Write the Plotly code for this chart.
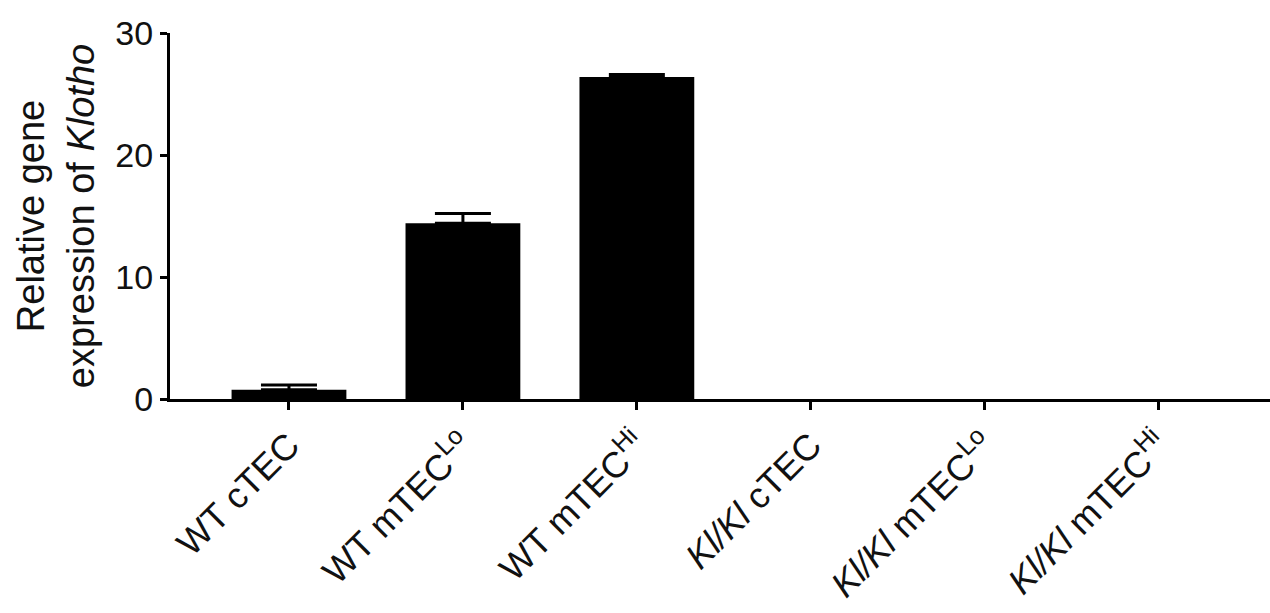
import plotly.graph_objects as go

categories = ["WT cTEC", "WT mTEC<sup>Lo</sup>", "WT mTEC<sup>Hi</sup>",
              "<i>Kl/Kl</i> cTEC", "<i>Kl/Kl</i> mTEC<sup>Lo</sup>", "<i>Kl/Kl</i> mTEC<sup>Hi</sup>"]
values = [0.75, 14.4, 26.4, 0, 0, 0]
# SEM shown only for the WT groups (Kl/Kl groups have no visible error bar)
errors = [0.4, 0.8, 0.2]
y_ticks = [0, 10, 20, 30]

FONT = "Arial, Liberation Sans, sans-serif"

fig = go.Figure()
fig.add_trace(go.Bar(
    x=list(range(len(categories))),
    y=values,
    width=0.66,
    marker=dict(color="black", line=dict(width=0)),
    error_y=dict(type="data", array=errors, arrayminus=[0] * len(errors), symmetric=False,
                 color="black", thickness=3, width=28),
))

fig.update_layout(
    width=1270, height=613,
    margin=dict(l=170, r=0, t=33, b=214, autoexpand=False),
    paper_bgcolor="white", plot_bgcolor="white",
    showlegend=False,
    font=dict(family=FONT, color="black"),
    xaxis=dict(
        range=[-0.684, 5.64], automargin=False,
        tickmode="array", tickvals=list(range(len(categories))), ticktext=categories,
        tickangle=-45, tickfont=dict(size=36, family=FONT, color="#111111"),
        ticks="outside", ticklen=8, tickwidth=3, tickcolor="black",
        showline=True, linecolor="black", linewidth=3,
        showgrid=False, zeroline=False,
    ),
    yaxis=dict(
        range=[0, 30], automargin=False,
        tickmode="array", tickvals=y_ticks, ticktext=[str(v) for v in y_ticks],
        tickfont=dict(size=34, family=FONT, color="#111111"),
        ticks="outside", ticklen=7, tickwidth=3, tickcolor="black",
        showline=True, linecolor="black", linewidth=3,
        showgrid=False, zeroline=False,
        title=dict(text="Relative gene<br>expression of <i>Klotho</i>",
                   font=dict(size=38, family=FONT, color="#111111"), standoff=10),
    ),
)

fig.write_html("out.html", config={"displayModeBar": False},
               post_script="document.body.style.margin='0';")
